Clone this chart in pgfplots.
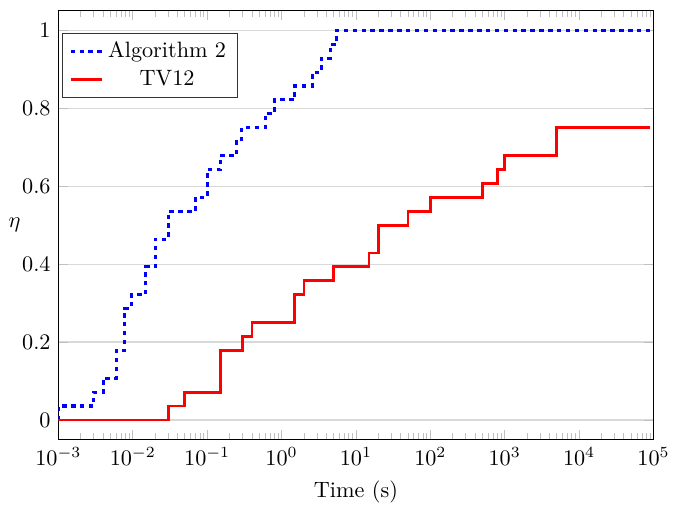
\documentclass[border=0pt]{standalone}
\usepackage{pgfplots}
\pgfplotsset{compat=1.18}

\begin{document}
\begin{tikzpicture}
\begin{axis}[
  scale only axis,
  width=268pt, height=193pt,
  xmode=log,
  xmin=1e-3, xmax=1e5,
  ymin=-0.05, ymax=1.05,
  ytick={0,0.2,0.4,0.6,0.8,1},
  xtick={1e-3,1e-2,1e-1,1,1e1,1e2,1e3,1e4,1e5},
  ymajorgrids, grid style={gray!30, line width=0.5pt},
  every tick/.style={gray!50},
  xlabel={Time (s)}, ylabel={$\eta$},
  every axis y label/.style={at={(rel axis cs:0,0.5)}, anchor=east, inner sep=0pt, xshift=-16.9pt},
  legend cell align=center,
  legend image code/.code={\draw[#1] (0cm,0cm) -- (0.5cm,0cm);},
  legend style={draw=black!80, at={(0.006,0.949)}, anchor=north west},
]
\addplot[const plot, blue, line width=1.4pt, dash pattern=on 2pt off 2pt] coordinates {
  (0.001,0) (0.001,0.0357) (0.003,0.0714) (0.004,0.1071) (0.006,0.1786)
  (0.0078,0.2857) (0.0096,0.3214) (0.015,0.3929) (0.02,0.4643) (0.03,0.5357)
  (0.07,0.5714) (0.1,0.6429) (0.15,0.6786) (0.25,0.7143) (0.29,0.75)
  (0.6,0.7857) (0.8,0.8214) (1.5,0.8571) (2.6,0.8929) (3.4,0.9286)
  (4.5,0.9643) (5.5,1) (1e5,1)
};
\addplot[const plot, red, line width=1.3pt] coordinates {
  (0.001,0) (0.03,0.0357) (0.05,0.0714) (0.15,0.1786) (0.3,0.2143) (0.4,0.25)
  (1.5,0.3214) (2,0.3571) (5,0.3929) (15,0.4286) (20,0.5) (50,0.5357)
  (100,0.5714) (500,0.6071) (800,0.6429) (1000,0.6786) (5000,0.75) (90000,0.75)
};
\legend{Algorithm 2, TV12}
\end{axis}
\path ([yshift=4.9pt]current axis.north);
\path ([xshift=-26.3pt]current axis.west);
\end{tikzpicture}
\end{document}
